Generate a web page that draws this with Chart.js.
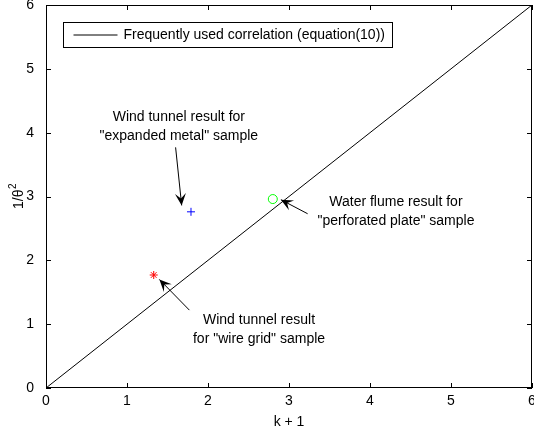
<!DOCTYPE html>
<html>
<head>
<meta charset="utf-8">
<script src="https://cdn.jsdelivr.net/npm/chart.js@4/dist/chart.umd.min.js"></script>
<style>
  html, body { margin: 0; padding: 0; background: #fff; }
  #wrap { width: 534px; height: 432px; }
</style>
</head>
<body>
<div id="wrap"><canvas id="c" width="534" height="432"></canvas></div>
<script>
// axis ticks (both axes 0..6)
const tickValues = [0, 1, 2, 3, 4, 5, 6];

// axis titles (y title has a superscript part)
const xTitle = 'k + 1';
const yTitleBase = '1/θ';
const yTitleSup = '2';

// correlation line, equation (10): 1/theta^2 = k + 1
const lineX = [0, 6];
const lineY = [0, 6];

// measured samples
const expandedMetal = { x: 1.79, y: 2.76 };   // blue +
const perforatedPlate = { x: 2.80, y: 2.96 }; // green o
const wireGrid = { x: 1.33, y: 1.77 };        // red *

const legendLabel = 'Frequently used correlation (equation(10))';

// annotations: text lines, text centre, arrow tail and arrow tip (data units)
const annoLines = [
  ['Wind tunnel result for', '"expanded metal" sample'],
  ['Water flume result for', '"perforated plate" sample'],
  ['Wind tunnel result', 'for "wire grid" sample'],
];
const annoTextX = [1.64, 4.32, 2.63];
const annoTextY = [4.10, 2.76, 0.92];
const arrowFromX = [1.60, 3.23, 1.77];
const arrowFromY = [3.77, 2.73, 1.22];
const arrowToX = [1.675, 2.90, 1.40];
const arrowToY = [2.86, 2.95, 1.70];

const FONT = '"Liberation Sans", Arial, Helvetica, sans-serif';
const FS = 14;

function drawArrowHead(ctx, x0, y0, x1, y1) {
  const a = Math.atan2(y1 - y0, x1 - x0);
  const len = 12, half = 5.5, back = 7;
  ctx.save();
  ctx.translate(x1, y1);
  ctx.rotate(a);
  ctx.beginPath();
  ctx.moveTo(0, 0);
  ctx.lineTo(-len, -half);
  ctx.lineTo(-back, 0);
  ctx.lineTo(-len, half);
  ctx.closePath();
  ctx.fill();
  ctx.restore();
}

// box, inward ticks, x labels, y title, legend and annotations, drawn like a MATLAB axes
const matlabAxes = {
  id: 'matlabAxes',
  afterDatasetsDraw(chart) {
    const { ctx, chartArea: ca, scales: { x, y } } = chart;
    ctx.save();
    ctx.strokeStyle = '#000';
    ctx.lineWidth = 1;
    ctx.strokeRect(ca.left + 0.5, ca.top + 0.5, ca.right - ca.left - 1, ca.bottom - ca.top - 1);
    const tl = 5;
    ctx.beginPath();
    tickValues.forEach(v => {
      const px = Math.round(x.getPixelForValue(v)) + 0.5;
      ctx.moveTo(px, ca.bottom); ctx.lineTo(px, ca.bottom - tl);
      ctx.moveTo(px, ca.top); ctx.lineTo(px, ca.top + tl);
      const py = Math.round(y.getPixelForValue(v)) + 0.5;
      ctx.moveTo(ca.left, py); ctx.lineTo(ca.left + tl, py);
      ctx.moveTo(ca.right, py); ctx.lineTo(ca.right - tl, py);
    });
    ctx.stroke();

    // x tick labels (drawn here so the last one may run off the canvas like the original)
    ctx.fillStyle = '#000';
    ctx.font = FS + 'px ' + FONT;
    ctx.textAlign = 'center';
    ctx.textBaseline = 'top';
    tickValues.forEach(v => {
      ctx.fillText(String(v), x.getPixelForValue(v), ca.bottom + 6);
    });

    // y title with superscript
    ctx.save();
    ctx.translate(23, (ca.top + ca.bottom) / 2);
    ctx.rotate(-Math.PI / 2);
    ctx.textBaseline = 'alphabetic';
    ctx.textAlign = 'left';
    ctx.font = FS + 'px ' + FONT;
    const wb = ctx.measureText(yTitleBase).width;
    ctx.font = '10px ' + FONT;
    const ws = ctx.measureText(yTitleSup).width;
    const x0 = -(wb + ws) / 2;
    ctx.font = FS + 'px ' + FONT;
    ctx.fillText(yTitleBase, x0, 0);
    ctx.font = '10px ' + FONT;
    ctx.fillText(yTitleSup, x0 + wb + 0.5, -7);
    ctx.restore();

    // legend
    const lx = 63.5, ly = 22.5, lw = 329, lh = 25;
    ctx.fillStyle = '#fff';
    ctx.fillRect(lx, ly, lw, lh);
    ctx.strokeRect(lx, ly, lw, lh);
    ctx.beginPath();
    ctx.moveTo(lx + 10, ly + lh / 2);
    ctx.lineTo(lx + 54, ly + lh / 2);
    ctx.stroke();
    ctx.fillStyle = '#000';
    ctx.font = FS + 'px ' + FONT;
    ctx.textAlign = 'left';
    ctx.textBaseline = 'middle';
    ctx.fillText(legendLabel, lx + 60, ly + lh / 2 + 0.5);

    // annotations
    ctx.textAlign = 'center';
    const lineH = 19;
    annoLines.forEach((lines, i) => {
      const cx = x.getPixelForValue(annoTextX[i]);
      const cy = y.getPixelForValue(annoTextY[i]);
      lines.forEach((t, j) => {
        ctx.fillText(t, cx, cy + (j - (lines.length - 1) / 2) * lineH);
      });
      const ax0 = x.getPixelForValue(arrowFromX[i]);
      const ay0 = y.getPixelForValue(arrowFromY[i]);
      const ax1 = x.getPixelForValue(arrowToX[i]);
      const ay1 = y.getPixelForValue(arrowToY[i]);
      ctx.beginPath();
      ctx.moveTo(ax0, ay0);
      ctx.lineTo(ax1, ay1);
      ctx.stroke();
      drawArrowHead(ctx, ax0, ay0, ax1, ay1);
    });
    ctx.restore();
  }
};

const axisCommon = {
  type: 'linear',
  min: 0,
  max: 6,
  grid: { display: false },
  border: { display: false },
  ticks: { stepSize: 1, color: '#000', font: { family: FONT, size: FS } },
};

new Chart(document.getElementById('c'), {
  type: 'scatter',
  data: {
    datasets: [
      {
        label: legendLabel,
        data: lineX.map((v, i) => ({ x: v, y: lineY[i] })),
        showLine: true,
        borderColor: '#000',
        borderWidth: 1,
        pointRadius: 0,
      },
      {
        label: 'expanded metal',
        data: [expandedMetal],
        pointStyle: 'cross',
        pointRadius: 4,
        borderColor: '#0000ff',
        borderWidth: 1,
      },
      {
        label: 'perforated plate',
        data: [perforatedPlate],
        pointStyle: 'circle',
        pointRadius: 4.5,
        borderColor: '#00ff00',
        backgroundColor: 'rgba(0,0,0,0)',
        borderWidth: 1,
      },
      {
        label: 'wire grid',
        data: [wireGrid],
        pointStyle: 'star',
        pointRadius: 4,
        borderColor: '#ff0000',
        borderWidth: 1,
      },
    ],
  },
  options: {
    responsive: false,
    animation: false,
    layout: { autoPadding: false, padding: { top: 5, right: 2, left: 0, bottom: 0 } },
    plugins: { legend: { display: false }, tooltip: { enabled: false } },
    scales: {
      x: {
        ...axisCommon,
        ticks: { ...axisCommon.ticks, display: false },
        title: { display: true, text: xTitle, color: '#000', font: { family: FONT, size: FS }, padding: { top: 0, bottom: 1 } },
        afterFit(scale) { scale.height = 44; scale.paddingLeft = 0; scale.paddingRight = 0; },
      },
      y: {
        ...axisCommon,
        ticks: { ...axisCommon.ticks, padding: 4 },
        afterFit(scale) { scale.width = 46; scale.paddingTop = 0; scale.paddingBottom = 0; },
      },
    },
  },
  plugins: [matlabAxes],
});
</script>
</body>
</html>
